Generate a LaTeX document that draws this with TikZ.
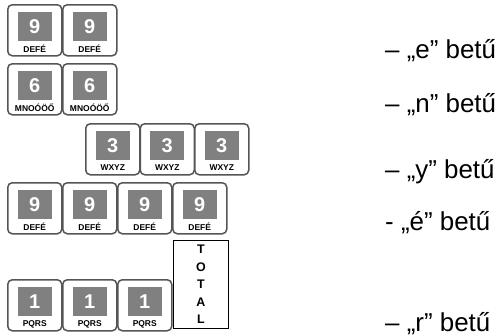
\documentclass[tikz,border=0pt]{standalone}
\usepackage{fontspec}
\setmainfont{Liberation Sans}
\usetikzlibrary{calc}
\definecolor{keyedge}{HTML}{555555}
\definecolor{keygray}{HTML}{808080}
\tikzset{
 keybox/.style={draw=keyedge, line width=1.5bp, rounded corners=4.5bp, minimum width=54bp, minimum height=51bp, inner sep=0pt, fill=white, anchor=north west},
 keyface/.style={fill=keygray, minimum width=34bp, minimum height=29bp, inner sep=0pt, text=white, font=\fontsize{20}{20}\selectfont\bfseries},
 keylabel/.style={inner sep=0pt, font=\fontsize{8.5}{8.5}\selectfont\bfseries},
 note/.style={anchor=base west, inner sep=0pt, font=\fontsize{26}{30}\selectfont},
 totalbox/.style={draw=black, line width=0.9bp, minimum width=55bp, minimum height=88bp, inner sep=0pt, anchor=north west, align=center, font=\fontsize{12.5}{17.5}\selectfont\bfseries}
}
\newcommand\padkey[5]{%
 \node[keybox] (#1) at (#2,#3) {};
 \node[keyface] (#1f) at ($(#1.north)+(0,22.5)$) {#4};
 \node[keylabel] (#1l) at ($(#1.north)+(0,45)$) {#5};
}
\begin{document}
\begin{tikzpicture}[x=1bp,y=-1bp]
\useasboundingbox (0,0) rectangle (504,335);
% row 1
\padkey{a1}{7}{4}{9}{DEFÉ}
\padkey{a2}{62}{4}{9}{DEFÉ}
% row 2
\padkey{b1}{7}{63}{6}{MNOÓÖŐ}
\padkey{b2}{62}{63}{6}{MNOÓÖŐ}
% row 3
\padkey{c1}{85}{123}{3}{WXYZ}
\padkey{c2}{139.5}{123}{3}{WXYZ}
\padkey{c3}{194}{123}{3}{WXYZ}
% row 4
\padkey{d1}{7}{182}{9}{DEFÉ}
\padkey{d2}{62}{182}{9}{DEFÉ}
\padkey{d3}{117}{182}{9}{DEFÉ}
\padkey{d4}{172}{182}{9}{DEFÉ}
% row 5
\padkey{e1}{7}{279}{1}{PQRS}
\padkey{e2}{62}{279}{1}{PQRS}
\padkey{e3}{117}{279}{1}{PQRS}
\node[totalbox] (tot) at (173,240) {T\\O\\T\\A\\L};
% notes
\node[note] (n1) at (385,58) {– „e” betű};
\node[note] (n2) at (385,112) {– „n” betű};
\node[note] (n3) at (385,178) {– „y” betű};
\node[note] (n4) at (385,230) {- „é” betű};
\node[note] (n5) at (385,331) {– „r” betű};
\end{tikzpicture}
\end{document}
